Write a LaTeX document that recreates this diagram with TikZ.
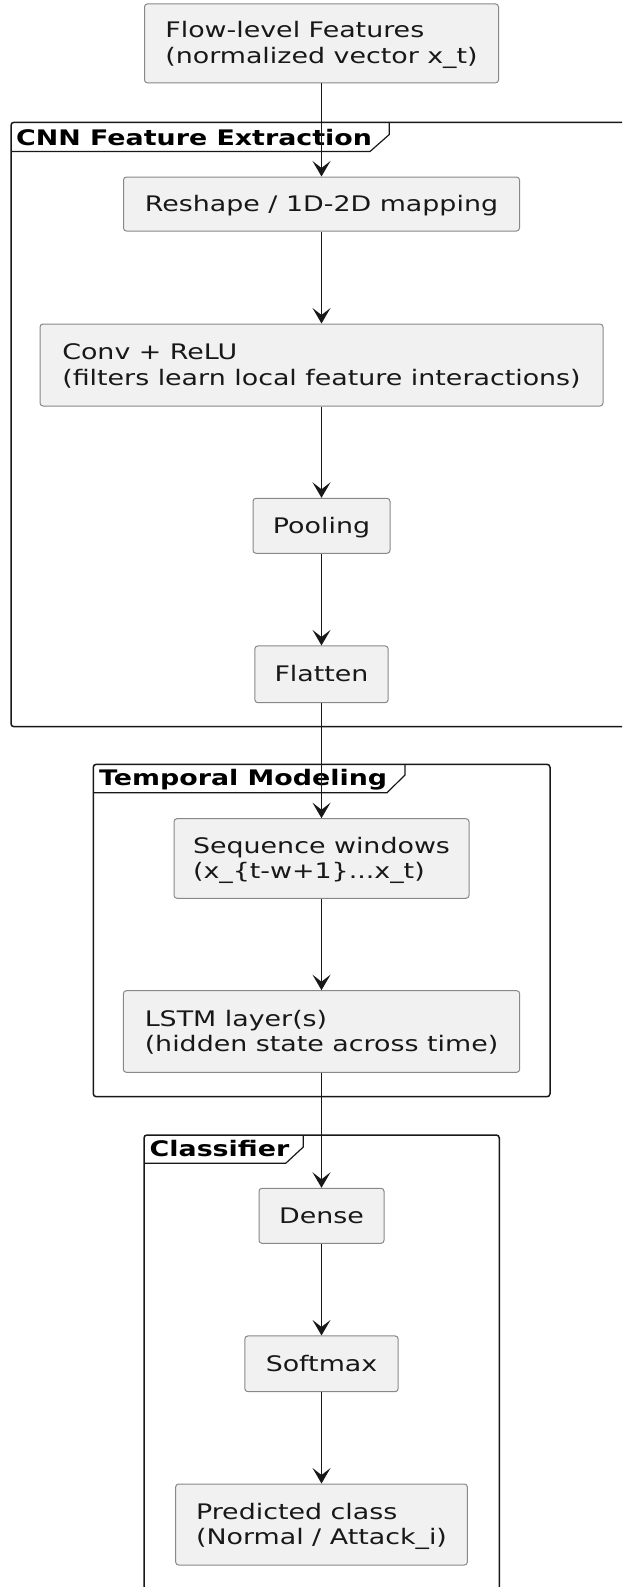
\documentclass[tikz,border=0pt]{standalone}
\usepackage{fontspec}
\setmainfont{DejaVu Sans}[FakeStretch=1.255]
\usetikzlibrary{arrows.meta}
\definecolor{boxfill}{HTML}{F1F1F1}
\definecolor{boxline}{HTML}{888888}
\definecolor{inkc}{HTML}{181818}
\newcommand\bodyfont{\fontsize{21.4pt}{25.8pt}\selectfont}
\newcommand\sst{\rule[-5.1pt]{0pt}{25pt}}
\tikzset{
  act/.style={draw=boxline, fill=boxfill, rounded corners=3pt, line width=1pt,
    inner sep=0pt, align=left, font=\bodyfont, text=inkc},
  flow/.style={draw=inkc, line width=1.6pt,
    -{Stealth[length=15.5pt, width=18pt, inset=7pt]}},
  frame/.style={draw=inkc, line width=1.5pt, rounded corners=3pt},
  tabline/.style={draw=inkc, line width=1.2pt},
  ftitle/.style={anchor=base west, inner sep=0pt, font=\bodyfont\bfseries, text=black},
}
\begin{document}
\begin{tikzpicture}[x=1pt,y=-1pt]
\useasboundingbox (0,0) rectangle (622,1587);
\clip (0,0) rectangle (622,1587);
% frames
\draw[frame] (11,122.3) rectangle (650,726.7);
\draw[tabline] (11,151.5) -- (370,151.5) -- (389.3,134.5) -- (389.3,122.3);
\node[ftitle] (cnnT) at (16,145) {CNN Feature Extraction};

\draw[frame] (93.3,764.3) rectangle (550,1096.7);
\draw[tabline] (93.3,792.7) -- (387,792.7) -- (405,775) -- (405,764.3);
\node[ftitle] (tempT) at (99,785.5) {Temporal Modeling};

\draw[frame] (144,1135) rectangle (499.3,1620);
\draw[tabline] (144,1163.3) -- (285.7,1163.3) -- (303.3,1147) -- (303.3,1135);
\node[ftitle] (clsT) at (149.5,1156) {Classifier};

% activity boxes
\node[act, minimum width=354pt, minimum height=79pt] (top) at (321.5,43.4)
  {\sst Flow-level Features\\\sst (normalized vector x\_t)};
\node[act, minimum width=396pt, minimum height=54pt] (reshape) at (321.5,204)
  {\sst Reshape / 1D-2D mapping};
\node[act, minimum width=563pt, minimum height=82pt] (conv) at (321.5,365)
  {\sst Conv + ReLU\\\sst (filters learn local feature interactions)};
\node[act, minimum width=137pt, minimum height=55pt] (pool) at (321.5,525.8)
  {\sst Pooling};
\node[act, minimum width=133.4pt, minimum height=56.7pt] (flat) at (321.5,674.3)
  {\sst Flatten};
\node[act, minimum width=295pt, minimum height=79.6pt] (seq) at (321.5,858.5)
  {\sst Sequence windows\\\sst (x\_\{t-w+1\}...x\_t)};
\node[act, minimum width=396.3pt, minimum height=81.6pt] (lstm) at (321.5,1031.5)
  {\sst LSTM layer(s)\\\sst (hidden state across time)};
\node[act, minimum width=125pt, minimum height=55pt] (dense) at (321.5,1215.8)
  {\sst Dense};
\node[act, minimum width=153.3pt, minimum height=55.7pt] (soft) at (321.5,1363.8)
  {\sst Softmax};
\node[act, minimum width=291.7pt, minimum height=81pt] (pred) at (321.5,1524.5)
  {\sst Predicted class\\\sst (Normal / Attack\_i)};

% connectors
\draw[flow] (top.south) -- (reshape.north);
\draw[flow] (reshape.south) -- (conv.north);
\draw[flow] (conv.south) -- (pool.north);
\draw[flow] (pool.south) -- (flat.north);
\draw[flow] (flat.south) -- (seq.north);
\draw[flow] (seq.south) -- (lstm.north);
\draw[flow] (lstm.south) -- (dense.north);
\draw[flow] (dense.south) -- (soft.north);
\draw[flow] (soft.south) -- (pred.north);
\end{tikzpicture}
\end{document}
